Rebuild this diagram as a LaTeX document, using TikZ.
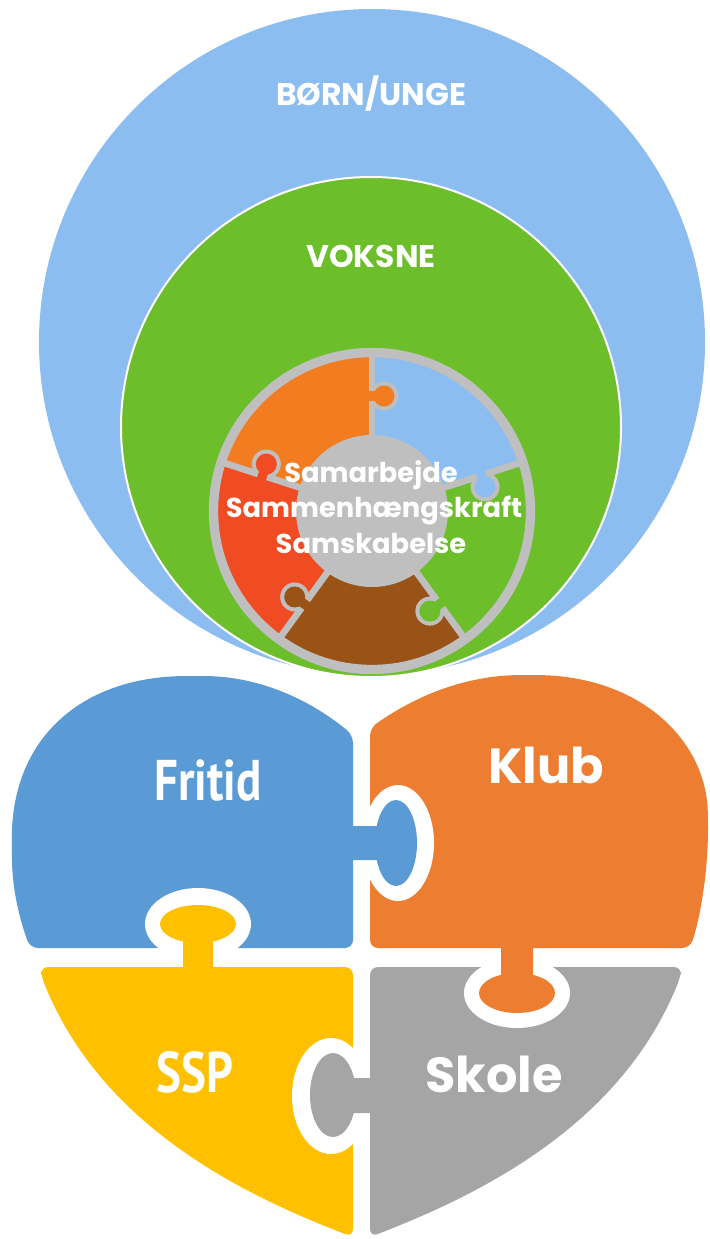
\documentclass[tikz,border=0pt]{standalone}
\usepackage{fontspec}
\setmainfont{Poppins}
\newfontfamily\narrowfont[FakeStretch=0.82]{PT Sans}
\usetikzlibrary{calc}

\definecolor{outerblue}{HTML}{8CBDF0}
\definecolor{voksgreen}{HTML}{6CBE2B}
\definecolor{pzorange}{HTML}{F47C20}
\definecolor{pzblue}{HTML}{8CBDF0}
\definecolor{pzgreen}{HTML}{6CBE2B}
\definecolor{pzbrown}{HTML}{9A5317}
\definecolor{pzred}{HTML}{F04B22}
\definecolor{ringgray}{HTML}{BFBFBF}
\definecolor{fritidblue}{HTML}{5B9BD5}
\definecolor{kluborange}{HTML}{ED7D31}
\definecolor{sspyellow}{HTML}{FFC000}
\definecolor{skolegray}{HTML}{A5A5A5}

\begin{document}
\begin{tikzpicture}[x=0.75pt,y=-0.75pt,
    circletext/.style={text=white,inner sep=0pt,anchor=base,font=\bfseries\fontsize{23.5}{28}\selectfont},
    coretext/.style={text=white,inner sep=0pt,anchor=base,font=\bfseries\fontsize{20.5}{24}\selectfont},
    narrowtext/.style={text=white,inner sep=0pt,anchor=base,font=\narrowfont\bfseries\fontsize{43}{43}\selectfont},
    roundtext/.style={text=white,inner sep=0pt,anchor=base,font=\bfseries\fontsize{37}{37}\selectfont}]
    \useasboundingbox (0,0) rectangle (710,1239);
    \fill[white] (0,0) rectangle (710,1239);
    % circles
    \fill[outerblue] (372,342) circle (333);
    \fill[voksgreen,draw=white,line width=1.5] (371,427) circle (250);
    % puzzle ring
    \coordinate (pc) at (372,511);
    \foreach \s/\e/\col in {-18/-90/pzblue,-90/-162/pzorange,-162/-234/pzred,126/54/pzbrown,54/-18/pzgreen}{
        \fill[\col] (pc) -- ($(pc)+(\s:160)$) arc[start angle=\s,end angle=\e,radius=160] -- cycle;
    }
    \foreach \p in {-90,-18,54,126,-162}{
        \draw[ringgray,line width=5] (pc) -- ($(pc)+(\p:160)$);
    }
    \foreach \p/\col in {-90/pzorange,-18/pzblue,54/pzgreen,126/pzbrown,-162/pzred}{
        \coordinate (kb) at ($(pc)+(\p:115)$);
        \coordinate (kc) at ($(kb)+(\p+90:12)$);
        \coordinate (ki) at ($(kb)+(\p+270:5)$);
        \draw[ringgray,line width=14] (kb) -- (kc);
        \fill[ringgray] (kc) circle (14.5);
        \draw[\col,line width=7] (ki) -- (kc);
        \fill[\col] (kc) circle (10.5);
    }
    \fill[ringgray] (pc) circle (76);
    \draw[ringgray,line width=7] (pc) circle (158.5);
    % heart pieces
    \fill[fritidblue,rounded corners=6] (353,948) -- (30,948) .. controls (20,920) and (12,890) .. (12,850)
        .. controls (10,740) and (80,676) .. (195,676) .. controls (260,676) and (310,700) .. (353,735) -- cycle;
    \fill[kluborange,rounded corners=6] (370,948) -- (370,728) .. controls (410,700) and (460,675) .. (530,675)
        .. controls (640,676) and (706,740) .. (708,820) .. controls (708,880) and (698,925) .. (690,948) -- cycle;
    \fill[sspyellow,rounded corners=6] (353,967) -- (40,967) -- (42,978)
        .. controls (100,1120) and (230,1190) .. (353,1237) -- cycle;
    \fill[skolegray,rounded corners=6] (370,967) -- (682,967) -- (680,978)
        .. controls (622,1120) and (492,1190) .. (370,1237) -- cycle;
    % knobs
    \fill[white] (398,843) ellipse[x radius=36,y radius=58];
    \fill[fritidblue,rounded corners=4] (345,826) rectangle (385,860);
    \fill[fritidblue] (396,843) ellipse[x radius=21,y radius=43];
    \fill[white] (198,924) ellipse[x radius=53,y radius=36];
    \fill[sspyellow,rounded corners=4] (183,935) rectangle (213,975);
    \fill[sspyellow] (198,924) ellipse[x radius=38,y radius=19];
    \fill[white] (331,1096) ellipse[x radius=39,y radius=58];
    \fill[skolegray,rounded corners=4] (325,1078) rectangle (378,1113);
    \fill[skolegray] (333,1095) ellipse[x radius=23,y radius=42];
    \fill[white] (517,993) ellipse[x radius=53,y radius=35];
    \fill[kluborange,rounded corners=4] (501,940) rectangle (533,985);
    \fill[kluborange] (517,993) ellipse[x radius=38,y radius=20];
    % labels
    \node[circletext] (born) at (371,105) {BØRN/UNGE};
    \node[circletext] (voksne) at (371,267) {VOKSNE};
    \node[coretext] (samarb) at (371,482) {Samarbejde};
    \node[coretext] (sammen) at (374,517) {Sammenhængskraft};
    \node[coretext] (samsk) at (371,553) {Samskabelse};
    \node[narrowtext] (fritid) at (208,800) {Fritid};
    \node[roundtext] (klub) at (546,783) {Klub};
    \node[narrowtext] (ssp) at (195,1092) {SSP};
    \node[roundtext] (skole) at (494,1092) {Skole};
\end{tikzpicture}
\end{document}
